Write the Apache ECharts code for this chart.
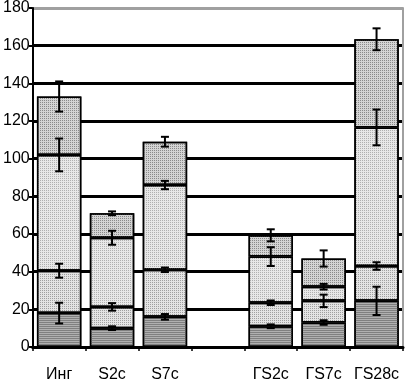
<!DOCTYPE html>
<html>
<head>
<meta charset="utf-8">
<script src="https://cdn.jsdelivr.net/npm/echarts@6/dist/echarts.min.js"></script>
<style>
  html, body { margin: 0; padding: 0; background: #fff; }
  #chart { width: 406px; height: 384px; }
</style>
</head>
<body>
<div id="chart"></div>
<script>
const categories = ["Инг", "S2c", "S7c", "", "ГS2c", "ГS7c", "ГS28c"];

// stacked segment heights (bottom to top)
const seg1 = [18, 10, 16, "-", 11, 13, 24.5];
const seg2 = [22.5, 11.3, 25, "-", 12.5, 11.5, 18.5];
const seg3 = [61.5, 36.7, 45, "-", 24.5, 7.5, 73.6];
const seg4 = [31, 13, 23, "-", 11.3, 15, 46.8];

// error bar half-lengths for each segment top
const err1 = [5.5, 1, 1.5, "-", 1, 1.2, 7.5];
const err2 = [3.7, 2, 1.2, "-", 1.2, 3.3, 2];
const err3 = [8.7, 3.7, 2.2, "-", 5, 1.5, 9.5];
const err4 = [8, 1, 2.6, "-", 3.2, 4.3, 5.8];

const yTicks = [0, 20, 40, 60, 80, 100, 120, 140, 160, 180];

const segs = [seg1, seg2, seg3, seg4];
const errs = [err1, err2, err3, err4];

// points for the error bars: [category, top, low, high]
const errData = [];
categories.forEach((c, i) => {
  let top = 0;
  segs.forEach((s, k) => {
    if (s[i] === "-") return;
    top += s[i];
    errData.push([i, top, top - errs[k][i], top + errs[k][i]]);
  });
});

const font = '"Liberation Sans Narrow", "Liberation Sans", Arial, sans-serif';

const fills = [
  { color: "#b0b0b0", decal: { symbol: "rect", symbolSize: 1, dashArrayX: [1, 0], dashArrayY: [1, 1], color: "#808080" } },
  { color: "#e4e4e4", decal: { symbol: "rect", symbolSize: 1, dashArrayX: [1, 1], dashArrayY: [1, 1], color: "#a0a0a0" } },
  { color: "#e8e8e8", decal: { symbol: "rect", symbolSize: 1, dashArrayX: [1, 1], dashArrayY: [1, 1], color: "#b0b0b0" } },
  { color: "#d4d4d4", decal: { symbol: "rect", symbolSize: 1, dashArrayX: [1, 1], dashArrayY: [1, 1], color: "#8a8a8a" } }
];

const chart = echarts.init(document.getElementById("chart"));
chart.setOption({
  animation: false,
  backgroundColor: "#fff",
  grid: { left: 31, right: 3, top: 7, bottom: 37 },
  xAxis: {
    type: "category",
    data: categories,
    axisLine: { lineStyle: { color: "#000", width: 3 } },
    axisTick: { show: true, length: 4, lineStyle: { color: "#000", width: 1.5 } },
    axisLabel: { color: "#000", fontSize: 16, fontFamily: font, margin: 20, interval: 0 }
  },
  yAxis: [
    {
      type: "value",
      min: 0,
      max: 180,
      interval: 20,
      axisLine: { show: true, lineStyle: { color: "#000", width: 2 } },
      axisTick: { show: true, length: 4, lineStyle: { color: "#000", width: 2 } },
      axisLabel: { color: "#000", fontSize: 16, fontFamily: font, margin: 3 },
      splitLine: {
        show: true,
        lineStyle: {
          color: yTicks.map((v) => (v === 180 ? "#a0a0a0" : "#000")),
          width: 3
        }
      }
    },
    {
      type: "value",
      min: 0,
      max: 180,
      interval: 20,
      position: "right",
      axisLine: { show: true, lineStyle: { color: "#a0a0a0", width: 2 } },
      axisTick: { show: false },
      axisLabel: { show: false },
      splitLine: { show: false }
    }
  ],
  series: segs.map((s, k) => ({
    type: "bar",
    stack: "total",
    data: s,
    barCategoryGap: "16%",
    itemStyle: {
      color: fills[k].color,
      decal: fills[k].decal,
      borderColor: "#000",
      borderWidth: 1.5
    }
  })).concat([
    {
      type: "custom",
      data: errData,
      z: 10,
      renderItem: (params, api) => {
        const hi = api.coord([api.value(0), api.value(3)]);
        const lo = api.coord([api.value(0), api.value(2)]);
        const x = hi[0];
        const cap = 4;
        const style = { stroke: "#000", lineWidth: 2 };
        return {
          type: "group",
          children: [
            { type: "line", shape: { x1: x, y1: hi[1], x2: x, y2: lo[1] }, style },
            { type: "line", shape: { x1: x - cap, y1: hi[1], x2: x + cap, y2: hi[1] }, style },
            { type: "line", shape: { x1: x - cap, y1: lo[1], x2: x + cap, y2: lo[1] }, style }
          ]
        };
      }
    }
  ])
});
</script>
</body>
</html>
